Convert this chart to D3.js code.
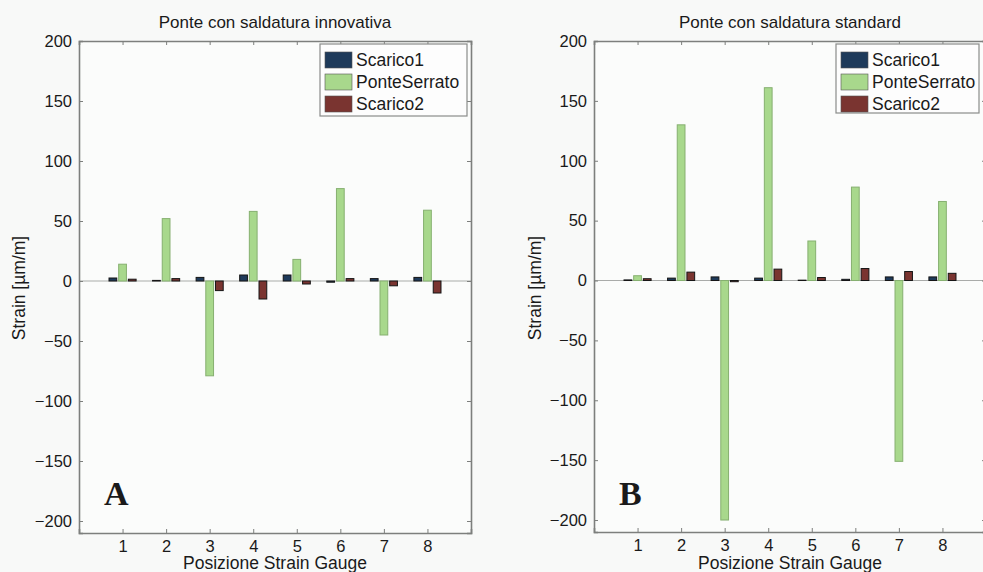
<!DOCTYPE html>
<html>
<head>
<meta charset="utf-8">
<script src="https://cdn.jsdelivr.net/npm/d3@7"></script>
<style>
  body { margin: 0; background: #f8f9f8; }
  svg { display: block; }
  text { font-family: "Liberation Sans", Arial, sans-serif; fill: #1a1a1a; }
</style>
</head>
<body>
<div id="chart"></div>
<script>
// gauge positions and legend names
var positions = [1, 2, 3, 4, 5, 6, 7, 8];
var seriesNames = ["Scarico1", "PonteSerrato", "Scarico2"];
var seriesColors = ["#1e3a5a", "#a8d88c", "#7a3430"];
var yTicks = [-200, -150, -100, -50, 0, 50, 100, 150, 200];

// panel A: ponte con saldatura innovativa
var innovScarico1 = [2.5, 0.5, 3, 5, 5, -1, 2, 3];
var innovPonte = [14, 52, -79, 58, 18, 77, -45, 59];
var innovScarico2 = [1.5, 2, -8, -15, -2.5, 2, -4, -10];

// panel B: ponte con saldatura standard
var stdScarico1 = [0.5, 2, 3, 2, 0.3, 1, 3, 3];
var stdPonte = [4, 130, -200, 161, 33, 78, -151, 66];
var stdScarico2 = [1.5, 7, -1, 9.5, 2.5, 10, 7.5, 6];

var width = 983, height = 572;

var svg = d3.select("#chart").append("svg")
    .attr("width", width)
    .attr("height", height);

var panels = [
  {title: "Ponte con saldatura innovativa", letter: "A", left: 79, right: 471, top: 41, bottom: 533,
   labelX: 19, series: [innovScarico1, innovPonte, innovScarico2],
   legend: {x: 320, y: 44, w: 147, h: 72}},
  {title: "Ponte con saldatura standard", letter: "B", left: 594, right: 986, top: 41, bottom: 532,
   labelX: 535, series: [stdScarico1, stdPonte, stdScarico2],
   legend: {x: 836, y: 44, w: 143, h: 69}}
];

var drawPanel = (p) => {
  var x = d3.scaleLinear().domain([0, 9]).range([p.left, p.right]);
  var y = d3.scaleLinear().domain([-210, 200]).range([p.bottom, p.top]);
  var g = svg.append("g");

  // plot background
  g.append("rect")
    .attr("x", p.left).attr("y", p.top)
    .attr("width", p.right - p.left).attr("height", p.bottom - p.top)
    .attr("fill", "#fbfcfb");

  // matlab grouped bars: 3 series, offsets of 0.222 and width 0.178
  var offsets = [-0.222, 0, 0.222], barW = 0.178;
  var rows = [];
  p.series.forEach((vals, s) => {
    vals.forEach((v, i) => rows.push({s: s, pos: positions[i], v: v}));
  });

  // baseline
  g.append("line")
    .attr("x1", p.left).attr("x2", p.right)
    .attr("y1", y(0)).attr("y2", y(0))
    .attr("stroke", "#a9aba9").attr("stroke-width", 1.2);

  g.selectAll("rect.bar")
    .data(rows)
    .join("rect")
      .attr("class", "bar")
      .attr("x", d => x(d.pos + offsets[d.s] - barW / 2))
      .attr("width", d => x(barW) - x(0))
      .attr("y", d => y(Math.max(0, d.v)))
      .attr("height", d => Math.abs(y(d.v) - y(0)))
      .attr("fill", d => seriesColors[d.s])
      .attr("stroke", d => d.s == 1 ? "#86b070" : "#151515")
      .attr("stroke-width", 1);

  // axes box with ticks on all sides (inward)
  var axisColor = "#7d7f7d";
  var leftAx = g.append("g").attr("transform", `translate(${p.left},0)`)
      .call(d3.axisLeft(y).tickValues(yTicks).tickSize(-4).tickPadding(7)
        .tickFormat(d => d < 0 ? "\u2212" + Math.abs(d) : d));
  var rightAx = g.append("g").attr("transform", `translate(${p.right},0)`)
      .call(d3.axisRight(y).tickValues(yTicks).tickSize(-4).tickFormat(""));
  var bottomAx = g.append("g").attr("transform", `translate(0,${p.bottom})`)
      .call(d3.axisBottom(x).tickValues(positions).tickSize(-4).tickPadding(7));
  var topAx = g.append("g").attr("transform", `translate(0,${p.top})`)
      .call(d3.axisTop(x).tickValues(positions).tickSize(-4).tickFormat(""));

  [leftAx, rightAx, bottomAx, topAx].forEach(a => {
    a.select(".domain").attr("stroke", axisColor).attr("stroke-width", 1.6);
    a.selectAll(".tick line").attr("stroke", axisColor);
    a.selectAll(".tick text")
      .attr("font-size", 16.5)
      .attr("fill", "#1a1a1a");
  });

  // title and axis labels
  var cx = (p.left + p.right) / 2;
  g.append("text")
    .attr("x", cx).attr("y", 28)
    .attr("text-anchor", "middle")
    .attr("font-size", 17)
    .text(p.title);

  g.append("text")
    .attr("x", cx).attr("y", 569)
    .attr("text-anchor", "middle")
    .attr("font-size", 17.5)
    .text("Posizione Strain Gauge");

  g.append("text")
    .attr("transform", `translate(${p.labelX + 6},288) rotate(-90)`)
    .attr("text-anchor", "middle")
    .attr("font-size", 17.5)
    .text("Strain [\u00b5m/m]");

  // panel letter, serif like the original figure
  g.append("text")
    .attr("x", p.left + 25).attr("y", 505)
    .style("font-family", "'Liberation Serif', 'Times New Roman', serif")
    .style("font-weight", "bold")
    .attr("font-size", 34)
    .text(p.letter);

  // legend
  var lg = g.append("g").attr("transform", `translate(${p.legend.x},${p.legend.y})`);
  lg.append("rect")
    .attr("width", p.legend.w).attr("height", p.legend.h)
    .attr("fill", "#fdfdfd")
    .attr("stroke", "#8a8c8a").attr("stroke-width", 1.2);

  var item = lg.selectAll("g.item")
    .data(seriesNames)
    .join("g")
      .attr("class", "item")
      .attr("transform", (d, i) => `translate(5,${8 + i * 22})`);

  item.append("rect")
    .attr("width", 27).attr("height", 16)
    .attr("fill", (d, i) => seriesColors[i])
    .attr("stroke", "#555").attr("stroke-width", 0.6);

  item.append("text")
    .attr("x", 31).attr("y", 14)
    .attr("font-size", 17.5)
    .text(d => d);
};

panels.forEach(drawPanel);
</script>
</body>
</html>
